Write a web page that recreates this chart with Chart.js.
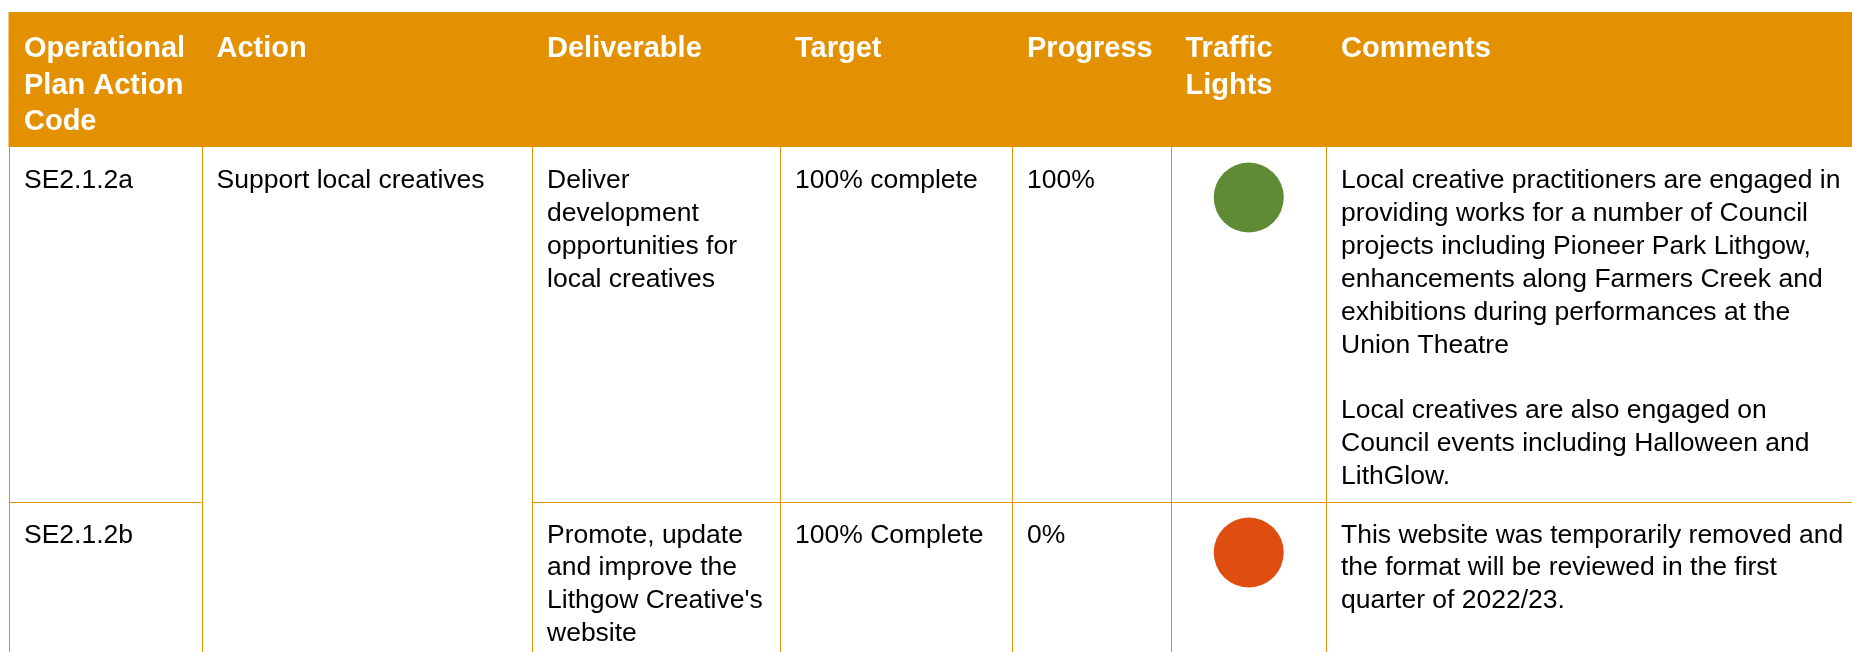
<!DOCTYPE html>
<html>
<head>
<meta charset="utf-8">
<script src="https://cdn.jsdelivr.net/npm/chart.js@4.4.1/dist/chart.umd.min.js"></script>
<style>
html,body{margin:0;padding:0;background:#fff;}
#wrap{position:relative;width:1852px;height:652px;}
</style>
</head>
<body>
<div id="wrap"><canvas id="c"></canvas></div>
<script>
// ---- table content (data) ----
const headers = ["Operational\nPlan Action\nCode", "Action", "Deliverable", "Target", "Progress", "Traffic\nLights", "Comments"];
const codes = ["SE2.1.2a", "SE2.1.2b"];
const actions = ["Support local creatives"]; // merged across both rows
const deliverables = [
  "Deliver\ndevelopment\nopportunities for\nlocal creatives",
  "Promote, update\nand improve the\nLithgow Creative's\nwebsite"
];
const targets = ["100% complete", "100% Complete"];
const progress = ["100%", "0%"];
const lights = ["green", "red"];
const comments = [
  "Local creative practitioners are engaged in\nproviding works for a number of Council\nprojects including Pioneer Park Lithgow,\nenhancements along Farmers Creek and\nexhibitions during performances at the\nUnion Theatre\n\nLocal creatives are also engaged on\nCouncil events including Halloween and\nLithGlow.",
  "This website was temporarily removed and\nthe format will be reviewed in the first\nquarter of 2022/23."
];

// ---- layout & style (not data) ----
const W = 1852, H = 652;
const colEdges = [9, 201.5, 532, 780, 1012, 1170.5, 1326, 1852];
const headerTop = 12, headerBottom = 147;
const rowEdges = [147, 502, 652];
const ORANGE = "#E39100";
const LINE = "#E39100";
const lightColors = {green: "#5F8B35", red: "#DF4E0F"};
const FONT = "'Liberation Sans', Arial, sans-serif";
const bodyFont = "26.5px " + FONT;
const headFont = "bold 29px " + FONT;
const pad = 15;

const trafficCol = 5;
const points = lights.map((l, i) => ({
  x: (colEdges[trafficCol] + colEdges[trafficCol + 1]) / 2 + 0.5,
  y: rowEdges[i] + 50.5
}));

const tablePlugin = {
  id: 'tablePlugin',
  beforeDatasetsDraw(chart) {
    const ctx = chart.ctx;
    const xs = chart.scales.x, ys = chart.scales.y;
    const px = v => xs.getPixelForValue(v);
    const py = v => ys.getPixelForValue(v);
    ctx.save();
    ctx.fillStyle = "#fff";
    ctx.fillRect(0, 0, chart.width, chart.height);
    // header band
    ctx.fillStyle = ORANGE;
    ctx.fillRect(px(8.5), py(headerTop), px(W) - px(8.5), py(headerBottom) - py(headerTop));
    // grid lines
    ctx.strokeStyle = LINE;
    ctx.lineWidth = 1;
    ctx.beginPath();
    for (let i = 0; i < colEdges.length - 1; i++) {
      const x = Math.round(px(colEdges[i])) + 0.5;
      ctx.moveTo(x, py(headerBottom));
      ctx.lineTo(x, py(H));
    }
    // row separator (Action column merged)
    const yr = Math.round(py(rowEdges[1])) + 0.5;
    ctx.moveTo(px(colEdges[0]), yr);
    ctx.lineTo(px(colEdges[1]), yr);
    ctx.moveTo(px(colEdges[2]), yr);
    ctx.lineTo(px(W), yr);
    ctx.stroke();

    const drawText = (txt, col, baseY, lh, font, color) => {
      ctx.font = font;
      ctx.fillStyle = color;
      ctx.textBaseline = 'alphabetic';
      ctx.textAlign = 'left';
      txt.split("\n").forEach((ln, k) => {
        ctx.fillText(ln, px(colEdges[col] + pad), py(baseY + k * lh));
      });
    };
    // headers
    headers.forEach((h, i) => drawText(h, i, headerTop + 45, 36.5, headFont, "#fff"));
    // rows
    const firstBase = [188, 542.5];
    const lh = [32.9, 32.8];
    codes.forEach((c, r) => {
      const b = firstBase[r];
      drawText(c, 0, b, lh[r], bodyFont, "#000");
      if (actions[r]) drawText(actions[r], 1, b, lh[r], bodyFont, "#000");
      drawText(deliverables[r], 2, b, lh[r], bodyFont, "#000");
      drawText(targets[r], 3, b, lh[r], bodyFont, "#000");
      drawText(progress[r], 4, b, lh[r], bodyFont, "#000");
      drawText(comments[r], 6, b, lh[r], bodyFont, "#000");
    });
    ctx.restore();
  }
};

new Chart(document.getElementById('c'), {
  type: 'scatter',
  data: {
    datasets: [{
      data: points,
      pointRadius: 35,
      pointHoverRadius: 35,
      pointBorderWidth: 0,
      pointBackgroundColor: lights.map(l => lightColors[l]),
      pointBorderColor: lights.map(l => lightColors[l])
    }]
  },
  options: {
    responsive: true,
    maintainAspectRatio: false,
    animation: false,
    layout: {padding: 0, autoPadding: false},
    clip: false,
    plugins: {legend: {display: false}, tooltip: {enabled: false}},
    scales: {
      x: {type: 'linear', min: 0, max: W, display: false},
      y: {type: 'linear', min: 0, max: H, reverse: true, display: false}
    }
  },
  plugins: [tablePlugin]
});
</script>
</body>
</html>
